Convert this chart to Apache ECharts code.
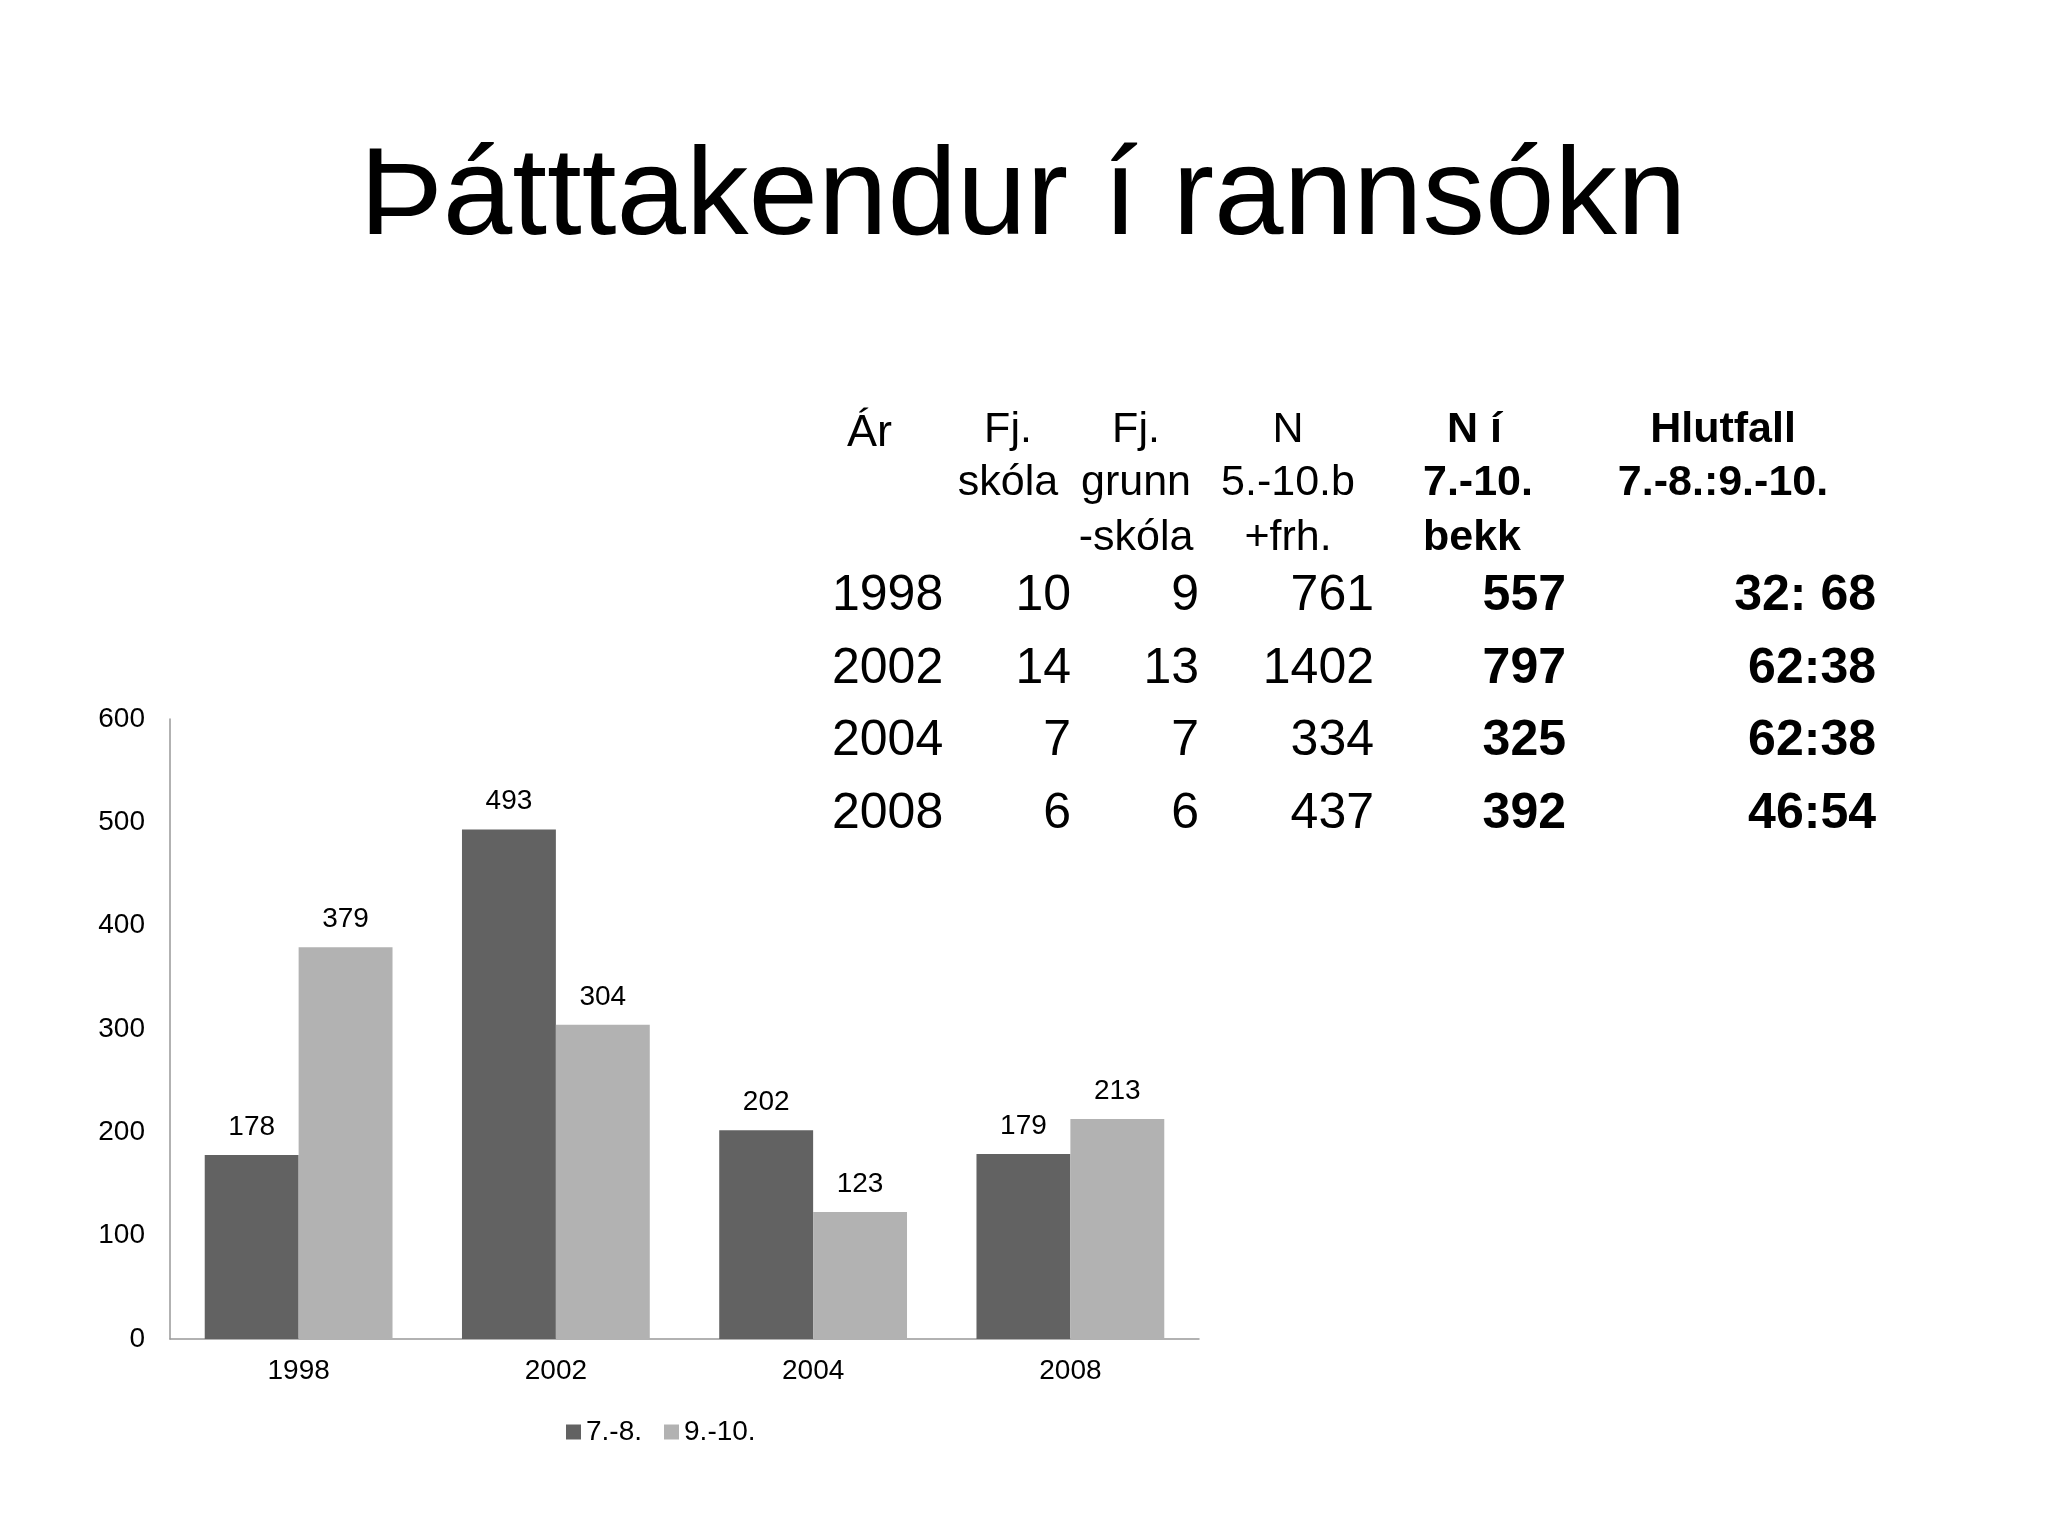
<!DOCTYPE html>
<html>
<head>
<meta charset="utf-8">
<script src="https://cdn.jsdelivr.net/npm/echarts@6/dist/echarts.min.js"></script>
<style>
    html, body { margin: 0; padding: 0; background: #fff; }
    #chart { width: 2048px; height: 1536px; }
</style>
</head>
<body>
<div id="chart"></div>
<script>
// ár / bekkir
var categories = ['1998', '2002', '2004', '2008'];
var legendNames = ['7.-8.', '9.-10.'];
var grade7to8 = [178, 493, 202, 179];
var grade9to10 = [379, 304, 123, 213];
var yTicks = [0, 100, 200, 300, 400, 500, 600];

// tafla til hægri
var tableYears = ['1998', '2002', '2004', '2008'];
var fjSkola = ['10', '14', '7', '6'];
var fjGrunnskola = ['9', '13', '7', '6'];
var nTotal = ['761', '1402', '334', '437'];
var n7to10 = ['557', '797', '325', '392'];
var hlutfall = ['32: 68', '62:38', '62:38', '46:54'];

var COLORMULTIPLE = ['#626262', '#b2b2b2'];
var FONT = "'Liberation Sans', Arial, sans-serif";
var AXIS_COLOR = '#999999';
var LABEL_SIZE = 28;

function txt(str, x, y, size, opts) {
    opts = opts || {};
    return {
        type: 'text',
        x: x,
        y: y,
        silent: true,
        style: {
            text: str,
            fontFamily: FONT,
            fontSize: size,
            fontWeight: opts.bold ? 'bold' : 'normal',
            fill: '#000',
            align: opts.align || 'center',
            textAlign: opts.align || 'center',
            verticalAlign: 'middle',
            textVerticalAlign: 'middle'
        }
    };
}

function _each(list, fn) {
    for (var i = 0; i < list.length; i++) fn(list[i], i);
}

function getTableGraphics() {
    var els = [];
    var HEAD = 43;
    var head1 = 430, head2 = 483, head3 = 538;
    els.push(txt('Ár', 847, 434, 45, {align: 'left'}));
    els.push(txt('Fj.', 1008, head1, HEAD));
    els.push(txt('skóla', 1008, head2, HEAD));
    els.push(txt('Fj.', 1136, head1, HEAD));
    els.push(txt('grunn', 1136, head2, HEAD));
    els.push(txt('-skóla', 1136, head3, HEAD));
    els.push(txt('N', 1288, head1, HEAD));
    els.push(txt('5.-10.b', 1288, head2, HEAD));
    els.push(txt('+frh.', 1288, head3, HEAD));
    els.push(txt('N í', 1447, head1, HEAD, {align: 'left', bold: true}));
    els.push(txt('7.-10.', 1423, head2, HEAD, {align: 'left', bold: true}));
    els.push(txt('bekk', 1423, head3, HEAD, {align: 'left', bold: true}));
    els.push(txt('Hlutfall', 1723, head1, HEAD, {bold: true}));
    els.push(txt('7.-8.:9.-10.', 1723, head2, HEAD, {bold: true}));

    var rowY = [596, 669, 741, 814];
    _each(tableYears, function(year, i) {
        var y = rowY[i];
        els.push(txt(year, 832, y, 50, {align: 'left'}));
        els.push(txt(fjSkola[i], 1071, y, 50, {align: 'right'}));
        els.push(txt(fjGrunnskola[i], 1199, y, 50, {align: 'right'}));
        els.push(txt(nTotal[i], 1374, y, 50, {align: 'right'}));
        els.push(txt(n7to10[i], 1566, y, 50, {align: 'right', bold: true}));
        els.push(txt(hlutfall[i], 1876, y, 50, {align: 'right', bold: true}));
    });
    return els;
}

function getSeries() {
    var values = [grade7to8, grade9to10];
    return legendNames.map(function(name, idx) {
        return {
            name: name,
            type: 'bar',
            data: values[idx],
            barGap: '0%',
            barCategoryGap: '27%',
            itemStyle: {color: COLORMULTIPLE[idx]},
            label: {
                show: true,
                position: 'top',
                distance: 14,
                color: '#000',
                fontFamily: FONT,
                fontSize: LABEL_SIZE
            }
        };
    });
}

function getEchartOptions() {
    return {
        animation: false,
        backgroundColor: '#fff',
        title: {
            text: 'Þátttakendur í rannsókn',
            left: 1018,
            top: 195,
            textAlign: 'center',
            textVerticalAlign: 'middle',
            textStyle: {
                fontFamily: FONT,
                fontSize: 125,
                fontWeight: 'normal',
                color: '#000'
            }
        },
        legend: {
            data: legendNames,
            left: 561,
            top: 1413,
            itemWidth: 15,
            itemHeight: 15,
            itemGap: 22,
            icon: 'rect',
            textStyle: {fontFamily: FONT, fontSize: LABEL_SIZE, color: '#000'}
        },
        grid: {
            left: 170,
            top: 719,
            width: 1029,
            height: 620,
            outerBoundsMode: 'none'
        },
        xAxis: {
            type: 'category',
            data: categories,
            axisLine: {lineStyle: {color: AXIS_COLOR, width: 1.5}},
            axisTick: {show: false},
            axisLabel: {margin: 18, color: '#000', fontFamily: FONT, fontSize: LABEL_SIZE}
        },
        yAxis: {
            type: 'value',
            min: yTicks[0],
            max: yTicks[yTicks.length - 1],
            interval: yTicks[1] - yTicks[0],
            splitLine: {show: false},
            axisLine: {show: true, lineStyle: {color: AXIS_COLOR, width: 1.5}},
            axisTick: {show: false},
            axisLabel: {margin: 25, color: '#000', fontFamily: FONT, fontSize: LABEL_SIZE}
        },
        graphic: getTableGraphics(),
        series: getSeries()
    };
}

var chart = echarts.init(document.getElementById('chart'), null, {renderer: 'canvas'});
chart.setOption(getEchartOptions());
</script>
</body>
</html>
